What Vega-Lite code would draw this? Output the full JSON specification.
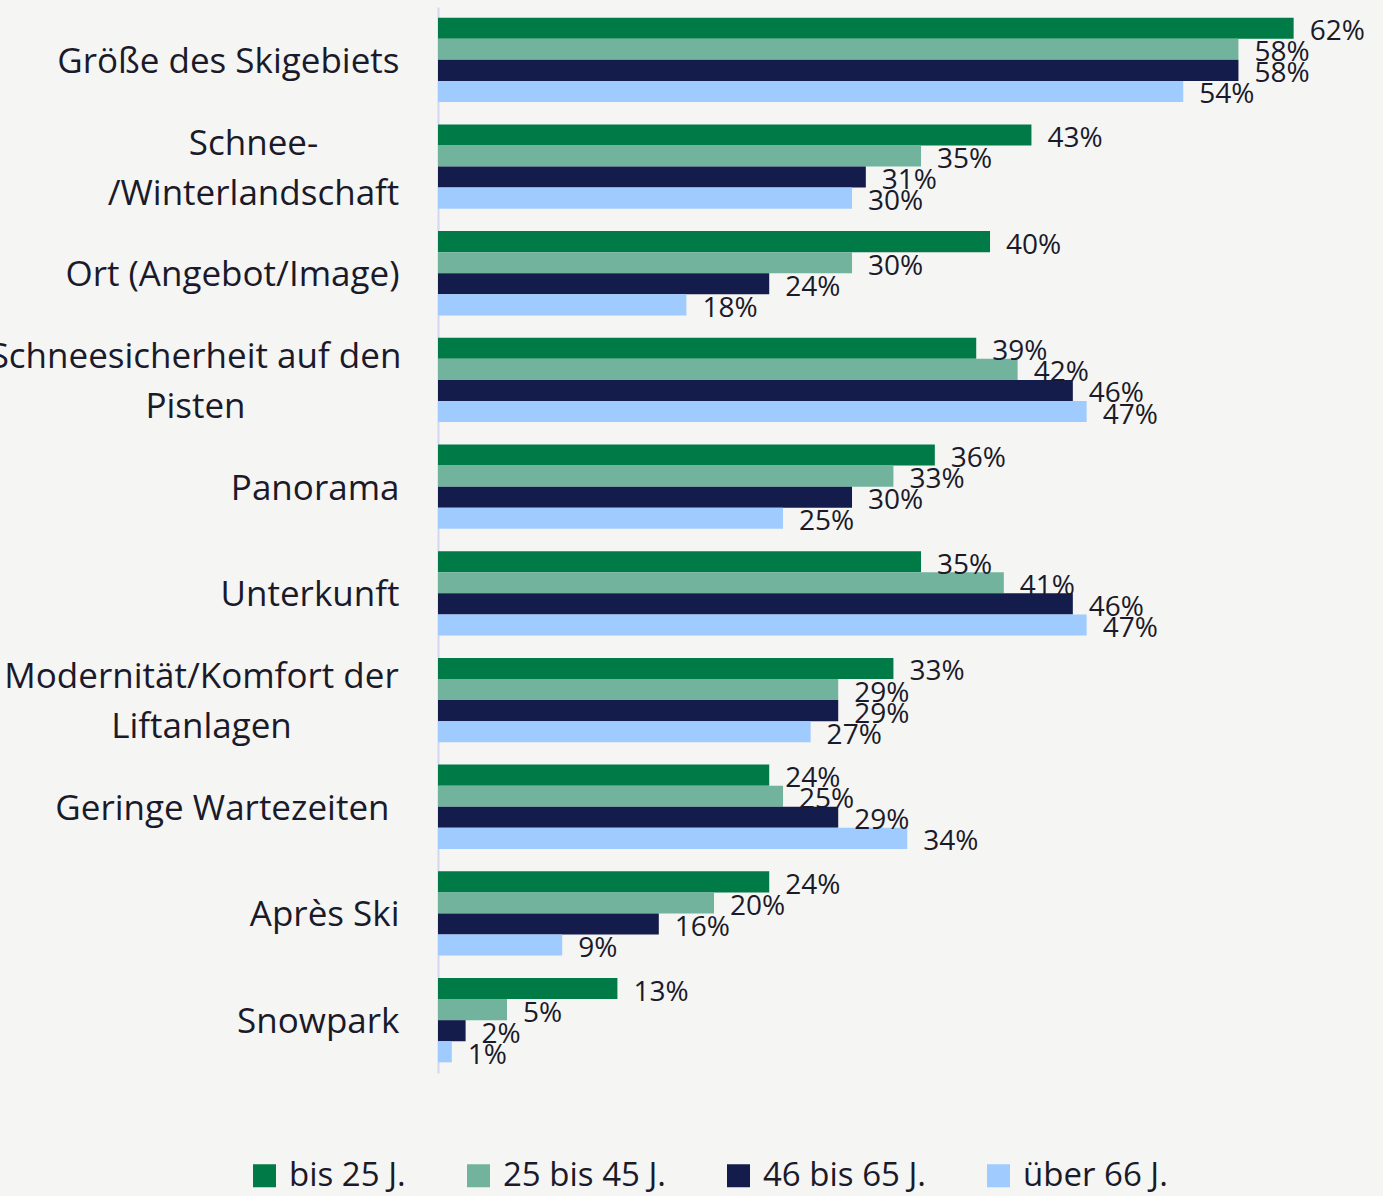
{
  "$schema": "https://vega.github.io/schema/vega-lite/v6.json",
  "width": 935,
  "height": 1066,
  "autosize": {"type": "none"},
  "padding": {"left": 438, "top": 7, "right": 10, "bottom": 123},
  "background": "#f5f5f3",
  "config": {"view": {"stroke": null}, "font": "Open Sans"},
  "data": {"values": [
    {"cat": "Größe des Skigebiets", "grp": "bis 25 J.", "v": 0.62},
    {"cat": "Größe des Skigebiets", "grp": "25 bis 45 J.", "v": 0.58},
    {"cat": "Größe des Skigebiets", "grp": "46 bis 65 J.", "v": 0.58},
    {"cat": "Größe des Skigebiets", "grp": "über 66 J.", "v": 0.54},
    {"cat": "Schnee-|/Winterlandschaft", "grp": "bis 25 J.", "v": 0.43},
    {"cat": "Schnee-|/Winterlandschaft", "grp": "25 bis 45 J.", "v": 0.35},
    {"cat": "Schnee-|/Winterlandschaft", "grp": "46 bis 65 J.", "v": 0.31},
    {"cat": "Schnee-|/Winterlandschaft", "grp": "über 66 J.", "v": 0.30},
    {"cat": "Ort (Angebot/Image)", "grp": "bis 25 J.", "v": 0.40},
    {"cat": "Ort (Angebot/Image)", "grp": "25 bis 45 J.", "v": 0.30},
    {"cat": "Ort (Angebot/Image)", "grp": "46 bis 65 J.", "v": 0.24},
    {"cat": "Ort (Angebot/Image)", "grp": "über 66 J.", "v": 0.18},
    {"cat": "Schneesicherheit auf den|Pisten", "grp": "bis 25 J.", "v": 0.39},
    {"cat": "Schneesicherheit auf den|Pisten", "grp": "25 bis 45 J.", "v": 0.42},
    {"cat": "Schneesicherheit auf den|Pisten", "grp": "46 bis 65 J.", "v": 0.46},
    {"cat": "Schneesicherheit auf den|Pisten", "grp": "über 66 J.", "v": 0.47},
    {"cat": "Panorama", "grp": "bis 25 J.", "v": 0.36},
    {"cat": "Panorama", "grp": "25 bis 45 J.", "v": 0.33},
    {"cat": "Panorama", "grp": "46 bis 65 J.", "v": 0.30},
    {"cat": "Panorama", "grp": "über 66 J.", "v": 0.25},
    {"cat": "Unterkunft", "grp": "bis 25 J.", "v": 0.35},
    {"cat": "Unterkunft", "grp": "25 bis 45 J.", "v": 0.41},
    {"cat": "Unterkunft", "grp": "46 bis 65 J.", "v": 0.46},
    {"cat": "Unterkunft", "grp": "über 66 J.", "v": 0.47},
    {"cat": "Modernität/Komfort der|Liftanlagen", "grp": "bis 25 J.", "v": 0.33},
    {"cat": "Modernität/Komfort der|Liftanlagen", "grp": "25 bis 45 J.", "v": 0.29},
    {"cat": "Modernität/Komfort der|Liftanlagen", "grp": "46 bis 65 J.", "v": 0.29},
    {"cat": "Modernität/Komfort der|Liftanlagen", "grp": "über 66 J.", "v": 0.27},
    {"cat": "Geringe Wartezeiten", "grp": "bis 25 J.", "v": 0.24},
    {"cat": "Geringe Wartezeiten", "grp": "25 bis 45 J.", "v": 0.25},
    {"cat": "Geringe Wartezeiten", "grp": "46 bis 65 J.", "v": 0.29},
    {"cat": "Geringe Wartezeiten", "grp": "über 66 J.", "v": 0.34},
    {"cat": "Après Ski", "grp": "bis 25 J.", "v": 0.24},
    {"cat": "Après Ski", "grp": "25 bis 45 J.", "v": 0.20},
    {"cat": "Après Ski", "grp": "46 bis 65 J.", "v": 0.16},
    {"cat": "Après Ski", "grp": "über 66 J.", "v": 0.09},
    {"cat": "Snowpark", "grp": "bis 25 J.", "v": 0.13},
    {"cat": "Snowpark", "grp": "25 bis 45 J.", "v": 0.05},
    {"cat": "Snowpark", "grp": "46 bis 65 J.", "v": 0.02},
    {"cat": "Snowpark", "grp": "über 66 J.", "v": 0.01}
  ]},
  "encoding": {
    "y": {
      "field": "cat", "type": "nominal", "sort": null,
      "scale": {"paddingInner": 0.21, "paddingOuter": 0.1},
      "axis": {
        "title": null,
        "domainColor": "#d6d6f0",
        "domainWidth": 2,
        "ticks": false,
        "labelFontSize": 35,
        "labelColor": "#1a1a2a",
        "labelLimit": 0,
        "labelLineHeight": 50,
        "labelExpr": "split(datum.label, '|')",
        "labelAlign": {"condition": {"test": "indexof(datum.value, '|') >= 0", "value": "center"}, "value": "right"},
        "labelOffset": {"condition": {"test": "indexof(datum.value, '|') >= 0", "value": -23}, "value": 2},
        "labelPadding": {"condition": [
          {"test": "datum.value == 'Schnee-|/Winterlandschaft'", "value": 185},
          {"test": "datum.value == 'Schneesicherheit auf den|Pisten'", "value": 243},
          {"test": "datum.value == 'Modernität/Komfort der|Liftanlagen'", "value": 237},
          {"test": "datum.value == 'Geringe Wartezeiten'", "value": 49}
        ], "value": 39}
      }
    },
    "yOffset": {
      "field": "grp", "type": "nominal",
      "sort": ["bis 25 J.", "25 bis 45 J.", "46 bis 65 J.", "über 66 J."],
      "scale": {"paddingInner": 0, "paddingOuter": 0}
    },
    "x": {
      "field": "v", "type": "quantitative",
      "scale": {"domain": [0, 0.6775], "nice": false, "zero": true},
      "axis": null
    }
  },
  "layer": [
    {
      "mark": {"type": "bar"},
      "encoding": {
        "color": {
          "field": "grp", "type": "nominal",
          "sort": ["bis 25 J.", "25 bis 45 J.", "46 bis 65 J.", "über 66 J."],
          "scale": {
            "domain": ["bis 25 J.", "25 bis 45 J.", "46 bis 65 J.", "über 66 J."],
            "range": ["#007a46", "#72b39e", "#141c4b", "#a0cbff"]
          },
          "legend": {
            "title": null,
            "orient": "none",
            "legendX": -190,
            "legendY": 1152,
            "direction": "horizontal",
            "symbolType": "square",
            "symbolSize": 529,
            "symbolStrokeWidth": 0,
            "symbolOpacity": 1,
            "labelFontSize": 33,
            "labelLimit": 0,
            "labelColor": "#1a1a2a",
            "labelOffset": 8,
            "columnPadding": 56
          }
        }
      }
    },
    {
      "mark": {"type": "text", "align": "left", "baseline": "middle", "dx": 16, "dy": 4, "fontSize": 28, "color": "#1a1a2a"},
      "encoding": {"text": {"field": "v", "type": "quantitative", "format": ".0%"}}
    }
  ]
}
